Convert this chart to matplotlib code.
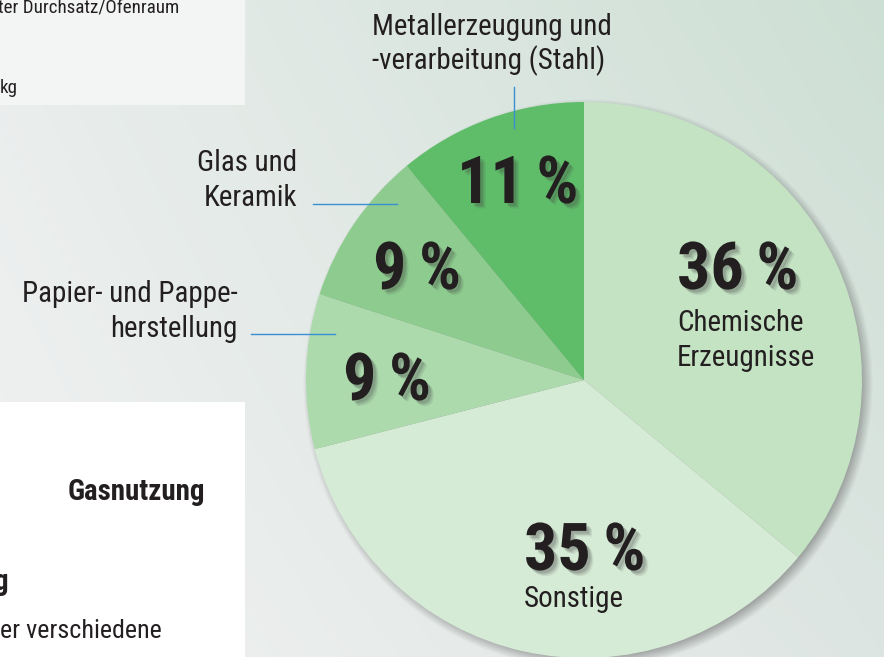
import numpy as np
import matplotlib
matplotlib.use('Agg')
import matplotlib.pyplot as plt
from matplotlib import font_manager as fm
from matplotlib.patches import Rectangle
import matplotlib.patheffects as pe

W, H = 884, 657

# ---- data ----
categories = ['Chemische Erzeugnisse', 'Sonstige', 'Papier- und Pappeherstellung',
              'Glas und Keramik', 'Metallerzeugung und -verarbeitung (Stahl)']
shares = [36, 35, 9, 9, 11]
pct_labels = ['36\u2009%', '35\u2009%', '9\u2009%', '9\u2009%', '11\u2009%']
slice_colors = ['#c4e3c3', '#d5ebd5', '#acdaad', '#8dcc8e', '#5fbd6a']

names = {f.name for f in fm.fontManager.ttflist}
def pick(*cands):
    for c in cands:
        if c in names:
            return c
    return 'DejaVu Sans'
FONT = pick('Liberation Sans Narrow', 'Roboto Condensed', 'DejaVu Sans Condensed', 'Liberation Sans')
NARROW = FONT != 'Liberation Sans'
K = 0.72 if NARROW else 0.72 * 0.84   # px -> pt

def Y(y):
    return H - y

fig = plt.figure(figsize=(W / 100, H / 100), dpi=100)
ax = fig.add_axes([0, 0, 1, 1])

# ---- background gradient ----
nx, ny = 200, 150
u = np.linspace(0, 1, nx)[None, :, None]
v = np.linspace(0, 1, ny)[:, None, None]
TL = np.array([233, 237, 236]) / 255
TR = np.array([205, 223, 212]) / 255
BL = np.array([241, 242, 242]) / 255
BR = np.array([221, 229, 226]) / 255
img = (1 - u) * (1 - v) * TL + u * (1 - v) * TR + (1 - u) * v * BL + u * v * BR
ax.imshow(img, extent=(0, W, 0, H), origin='upper', aspect='auto', zorder=0, interpolation='bilinear')

# ---- left panels ----
ax.add_patch(Rectangle((0, Y(105)), 245, 105, color='#f3f5f5', zorder=1, lw=0))
ax.add_patch(Rectangle((0, 0), 245, H - 402, color='#ffffff', zorder=1, lw=0))

# ---- pie shadow ----
cx, cy, R = 584, 380, 278
xs = np.arange(0, W) + 0.5
ys = np.arange(0, H) + 0.5
XX, YY = np.meshgrid(xs, ys)
d = np.hypot(XX - (cx + 4), YY - (cy + 4))
blur = 7.0
a = np.clip((R + blur - d) / (2 * blur), 0, 1) * 0.55
sh = np.zeros((H, W, 4))
sh[..., 0] = sh[..., 1] = sh[..., 2] = 0.35
sh[..., 3] = a
ax.imshow(sh, extent=(0, W, 0, H), origin='upper', aspect='auto', zorder=2)

# ---- pie ----
wedges, _ = ax.pie(shares, colors=slice_colors, startangle=90, counterclock=False,
                   center=(cx, Y(cy)), radius=R, wedgeprops=dict(linewidth=0))
for w_ in wedges:
    w_.set_zorder(3)

ax.set_xlim(0, W)
ax.set_ylim(0, H)
ax.set_aspect('auto')
ax.axis('off')

# ---- leader lines ----
lc = '#3a8fd2'
ax.plot([514, 514], [Y(87), Y(128)], color=lc, lw=1.0, zorder=4)
ax.plot([313, 397], [Y(204), Y(204)], color=lc, lw=1.0, zorder=4)
ax.plot([251, 335], [Y(334), Y(334)], color=lc, lw=1.0, zorder=4)

txt = '#231f20'
LS = 29 * K

SHADOW = [pe.SimplePatchShadow(offset=(o, -o), shadow_rgbFace='#444444', alpha=al)
          for o, al in ((4.0, 0.10), (3.0, 0.15), (2.0, 0.2))] + [pe.Normal()]

def t(x, y, s, size, ha='left', weight='normal', shadow=False):
    kw = {}
    if shadow:
        kw['path_effects'] = SHADOW
    ax.text(x, Y(y), s, fontsize=size, ha=ha, va='baseline', family=FONT,
            weight=weight, color=txt, zorder=5, **kw)

# category labels
t(372, 35, 'Metallerzeugung und', LS)
t(372, 69, '-verarbeitung (Stahl)', LS)
t(297, 171, 'Glas und', LS, ha='right')
t(297, 206, 'Keramik', LS, ha='right')
t(238, 302, 'Papier- und Pappe-', LS, ha='right')
t(238, 337, 'herstellung', LS, ha='right')
t(677, 331, 'Chemische', LS)
t(677, 366, 'Erzeugnisse', LS)
t(524, 607, 'Sonstige', LS)

# percent labels
PS = 66 * K
pct_pos = [(677, 289), (524, 570), (343, 400), (373, 289), (457, 203)]
for (x, y), lab in zip(pct_pos, pct_labels):
    t(x, y, lab, PS, weight='bold', shadow=True)

# left panel fragments
t(-2, 13, 'ter Durchsatz/Ofenraum', 19 * K)
t(0, 93, 'kg', 19 * K)
t(68, 500, 'Gasnutzung', 29 * K, weight='bold')
t(9, 590, 'g', 29 * K, ha='right', weight='bold')
t(0, 638, 'er verschiedene', 26 * K)

fig.savefig('out.png', dpi=100)
